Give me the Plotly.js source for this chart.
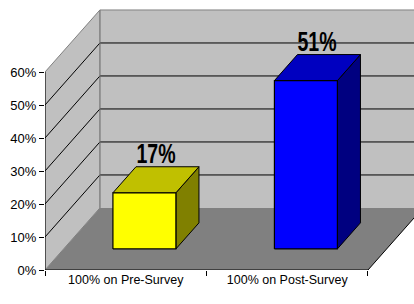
<!DOCTYPE html>
<html>
<head>
<meta charset="utf-8">
<script src="https://cdn.plot.ly/plotly-3.0.1.min.js"></script>
<style>html,body{margin:0;padding:0;background:#fff;}#chart{width:414px;height:304px;}</style>
</head>
<body>
<div id="chart"></div>
<script>
// ---- data ----
const categories = ['100% on Pre-Survey', '100% on Post-Survey'];
const values = [17, 51];
const valueLabels = ['17%', '51%'];
const frontColors = ['#ffff00', '#0000ff'];
const topColors = ['#c0c000', '#0000c0'];
const sideColors = ['#808000', '#000080'];
const yTickVals = [0, 10, 20, 30, 40, 50, 60];
const yTickText = ['0%', '10%', '20%', '30%', '40%', '50%', '60%'];

// ---- oblique projection (style) ----
const DX = 0.34, DY = 18.8;      // offset of full depth in x units / y units
const D0 = 0.34, D1 = 0.76;      // bar depth span
const HALF = 0.195;              // bar half width
const YMAX = yTickVals[yTickVals.length - 1];
const XMIN = -0.5, XMAX = categories.length - 0.5;
const XR = [-0.5, 1.785], YR = [0, 81.82];

function P(x, v, d) { return [x + d * DX, v + d * DY]; }
function poly(pts, fill, line, lw) {
  const xs = pts.map(p => p[0]), ys = pts.map(p => p[1]);
  xs.push(xs[0]); ys.push(ys[0]);
  return {x: xs, y: ys, type: 'scatter', mode: 'lines', fill: 'toself',
    fillcolor: fill, line: {color: line, width: lw}, hoverinfo: 'skip', showlegend: false};
}
function lines(segs, color, w) {
  const xs = [], ys = [];
  segs.forEach(s => { xs.push(s[0][0], s[1][0], null); ys.push(s[0][1], s[1][1], null); });
  return {x: xs, y: ys, type: 'scatter', mode: 'lines', line: {color: color, width: w},
    hoverinfo: 'skip', showlegend: false};
}

const traces = [];
// back wall
traces.push(poly([P(XMIN, 0, 1), P(XR[1] + 1, 0, 1), P(XR[1] + 1, YMAX, 1), P(XMIN, YMAX, 1)], '#c0c0c0', 'rgba(0,0,0,0)', 0));
// left wall
traces.push(poly([P(XMIN, 0, 0), P(XMIN, YMAX, 0), P(XMIN, YMAX, 1), P(XMIN, 0, 1)], '#c0c0c0', '#808080', 1));
// floor
traces.push(poly([P(XMIN, 0, 0), P(XMAX, 0, 0), P(XMAX, 0, 1), P(XMIN, 0, 1)], '#808080', 'rgba(0,0,0,0)', 0));
// gridlines
const grid = [];
yTickVals.slice(1, -1).forEach(v => {
  grid.push([P(XMIN, v, 0), P(XMIN, v, 1)]);
  grid.push([P(XMIN, v, 1), P(XR[1] + 1, v, 1)]);
});
traces.push(lines(grid, '#000000', 1));
// wall edges (gray)
traces.push(lines([
  [P(XMIN, YMAX, 1), P(XR[1] + 1, YMAX, 1)],
  [P(XMIN, 0, 1), P(XMIN, YMAX, 1)]
], '#808080', 1));
// front axis edges (black)
traces.push(lines([
  [P(XMIN, 0, 0), P(XMIN, YMAX, 0)],
  [P(XMIN, 0, 0), P(XMAX, 0, 0)],
  [P(XMAX, 0, 0), P(XMAX, 0, 1)]
], '#000000', 1));

// bars
const annotations = [];
values.forEach((v, i) => {
  const x0 = i - HALF, x1 = i + HALF;
  traces.push(poly([P(x1, 0, D0), P(x1, 0, D1), P(x1, v, D1), P(x1, v, D0)], sideColors[i], '#000', 1));
  traces.push(poly([P(x0, v, D0), P(x1, v, D0), P(x1, v, D1), P(x0, v, D1)], topColors[i], '#000', 1));
  traces.push(poly([P(x0, 0, D0), P(x1, 0, D0), P(x1, v, D0), P(x0, v, D0)], frontColors[i], '#000', 1.2));
  const cx = P(i, v, (D0 + D1) / 2)[0];
  const cy = P(i, v, D1)[1];
  annotations.push({x: cx, y: cy, xref: 'x', yref: 'y', text: '<b>' + valueLabels[i] + '</b>',
    showarrow: false, yanchor: 'middle', xanchor: 'center', yshift: 13,
    font: {family: 'Liberation Sans, Arial', size: 21, color: '#000'}});
});

const layout = {
  width: 414, height: 304,
  margin: {l: 45, r: 0, t: 0, b: 34, pad: 0},
  paper_bgcolor: '#ffffff', plot_bgcolor: '#ffffff',
  showlegend: false,
  font: {family: 'Liberation Sans, Arial, sans-serif', color: '#000'},
  xaxis: {range: XR, showgrid: false, zeroline: false, showline: false,
    tickmode: 'array', tickvals: categories.map((c, i) => i), ticktext: categories,
    ticks: '', tickfont: {size: 12.5, color: '#000'},
    minor: {tickmode: 'linear', tick0: -0.5, dtick: 1, ticks: 'outside', ticklen: 5, tickcolor: '#000', showgrid: false}},
  yaxis: {range: YR, showgrid: false, zeroline: false, showline: false,
    tickmode: 'array', tickvals: yTickVals, ticktext: yTickText,
    ticks: 'outside', ticklen: 5, tickcolor: '#000', tickfont: {size: 13, color: '#000'}},
  annotations: annotations
};

function condense() {
  document.querySelectorAll('#chart .annotation-text').forEach(t => {
    t.style.transformBox = 'fill-box';
    t.style.transformOrigin = 'center';
    t.style.transform = 'scale(0.93,1.32)';
  });
}
Plotly.newPlot('chart', traces, layout, {staticPlot: true, displayModeBar: false}).then(condense);
</script>
</body>
</html>
